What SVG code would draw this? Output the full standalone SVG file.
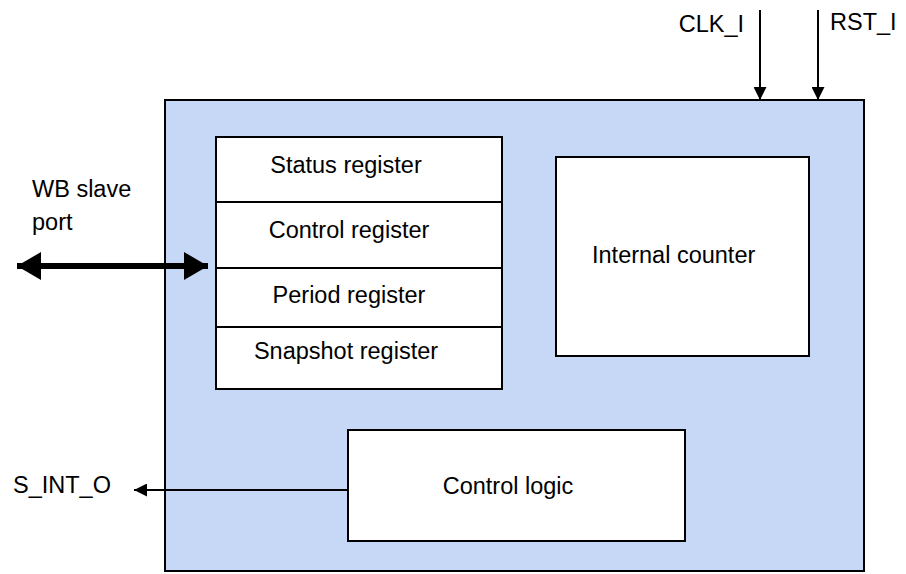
<svg xmlns="http://www.w3.org/2000/svg" width="906" height="574" viewBox="0 0 906 574">
<style>
text{font-family:"Liberation Sans",Arial,sans-serif;font-size:23.5px;fill:#000}
.box{fill:#fff;stroke:#000;stroke-width:2}
.ln{stroke:#000;stroke-width:2;fill:none}
</style>
<defs>
<marker id="ahb" viewBox="0 0 10 10" refX="10" refY="5" markerWidth="13" markerHeight="13" markerUnits="userSpaceOnUse" orient="auto"><path d="M0,0L10,5L0,10z" fill="#000"/></marker>
<marker id="ahw" viewBox="0 0 24 28" refX="24" refY="14" markerWidth="24" markerHeight="28" markerUnits="userSpaceOnUse" orient="auto-start-reverse"><path d="M0,0L24,14L0,28z" fill="#000"/></marker>
</defs>
<g id="block"><rect x="165" y="100" width="699" height="471" fill="#c7d7f6" stroke="#000" stroke-width="2"/></g>
<g id="registers">
<rect class="box" x="216" y="137" width="286" height="252"/>
<line class="ln" x1="216" y1="202" x2="502" y2="202"/>
<line class="ln" x1="216" y1="268" x2="502" y2="268"/>
<line class="ln" x1="216" y1="327" x2="502" y2="327"/>
<text x="346" y="173" text-anchor="middle">Status register</text>
<text x="349" y="238" text-anchor="middle">Control register</text>
<text x="349" y="303" text-anchor="middle">Period register</text>
<text x="346" y="359" text-anchor="middle">Snapshot register</text>
</g>
<g id="counter"><rect class="box" x="556" y="157" width="253" height="199"/><text x="592" y="263">Internal counter</text></g>
<g id="logic"><rect class="box" x="348" y="430" width="337" height="111"/><text x="508" y="494" text-anchor="middle">Control logic</text></g>
<g id="labels">
<text x="744" y="32" text-anchor="end">CLK_I</text>
<text x="830" y="30">RST_I</text>
<text x="32" y="197">WB slave</text>
<text x="32" y="230">port</text>
<text x="13" y="493">S_INT_O</text>
</g>
<g id="connectors">
<line class="ln" x1="760" y1="10" x2="760" y2="100" marker-end="url(#ahb)"/>
<line class="ln" x1="818" y1="10" x2="818" y2="100" marker-end="url(#ahb)"/>
<line x1="17" y1="266" x2="208" y2="266" stroke="#000" stroke-width="6" marker-start="url(#ahw)" marker-end="url(#ahw)"/>
<line class="ln" x1="348" y1="490" x2="134" y2="490" marker-end="url(#ahb)"/>
</g>
</svg>
